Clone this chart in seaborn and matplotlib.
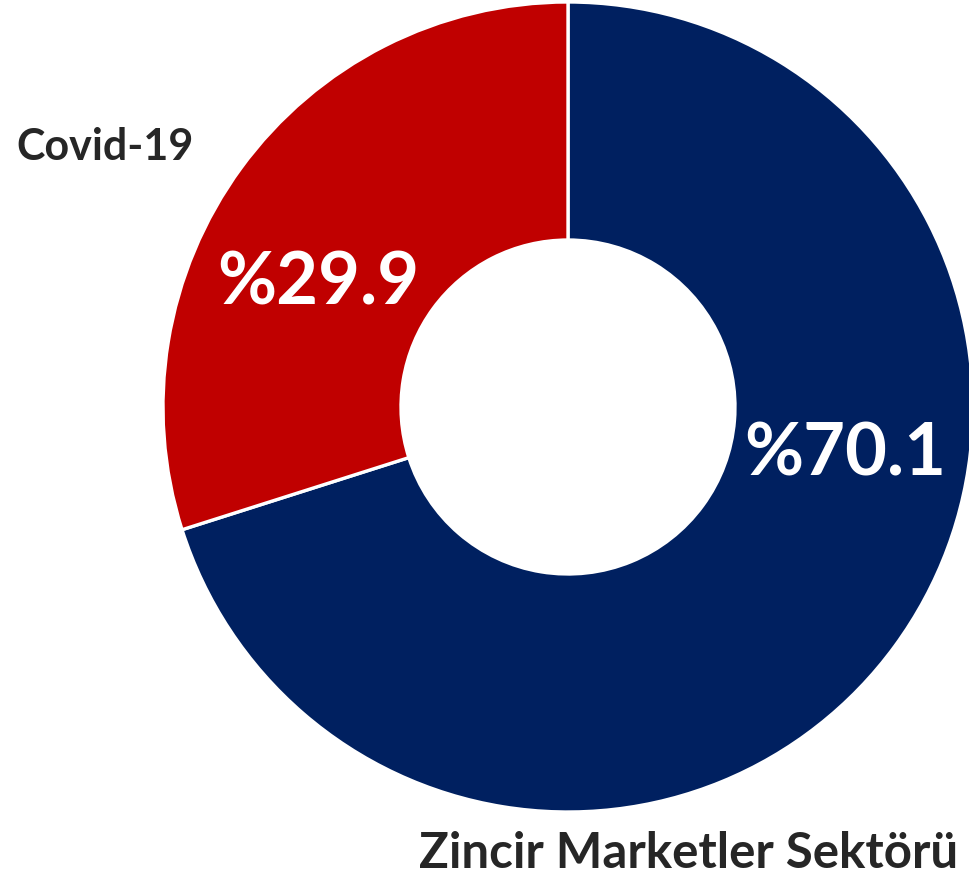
import matplotlib
matplotlib.use("Agg")
import matplotlib.pyplot as plt
import seaborn as sns

# Veri
kategoriler = ["Zincir Marketler Sektörü", "Covid-19"]
degerler = [70.1, 29.9]
renkler = ["#002060", "#C00000"]
etiketler = ["%70.1", "%29.9"]

sns.set_theme(style="white")
plt.rcParams['font.family'] = ['Lato', 'DejaVu Sans']

W, H = 969, 877
fig = plt.figure(figsize=(W / 100, H / 100), dpi=100)
ax = fig.add_axes([0, 0, 1, 1])

# Halka grafik (piksel koordinatlarinda)
merkez = (568, H - 407)
yaricap = 405
ic_yaricap = 167
ax.pie(degerler, colors=renkler, startangle=90, counterclock=False,
       center=merkez, radius=yaricap,
       wedgeprops=dict(width=yaricap - ic_yaricap, edgecolor="white", linewidth=2.4))

ax.set_xlim(0, W)
ax.set_ylim(0, H)
ax.set_aspect("equal")
ax.axis("off")

# Yuzde etiketleri
ax.text(845, H - 455, etiketler[0], color="white", fontsize=52, fontweight="bold",
        ha="center", va="center")
ax.text(318, H - 284, etiketler[1], color="white", fontsize=52, fontweight="bold",
        ha="center", va="center")

# Kategori etiketleri
ax.text(16, H - 147, kategoriler[1], color="#262626", fontsize=31, fontweight="bold",
        ha="left", va="center")
ax.text(958, H - 853, kategoriler[0], color="#262626", fontsize=35.5, fontweight="bold",
        ha="right", va="center")

fig.savefig("out.png", dpi=100)
